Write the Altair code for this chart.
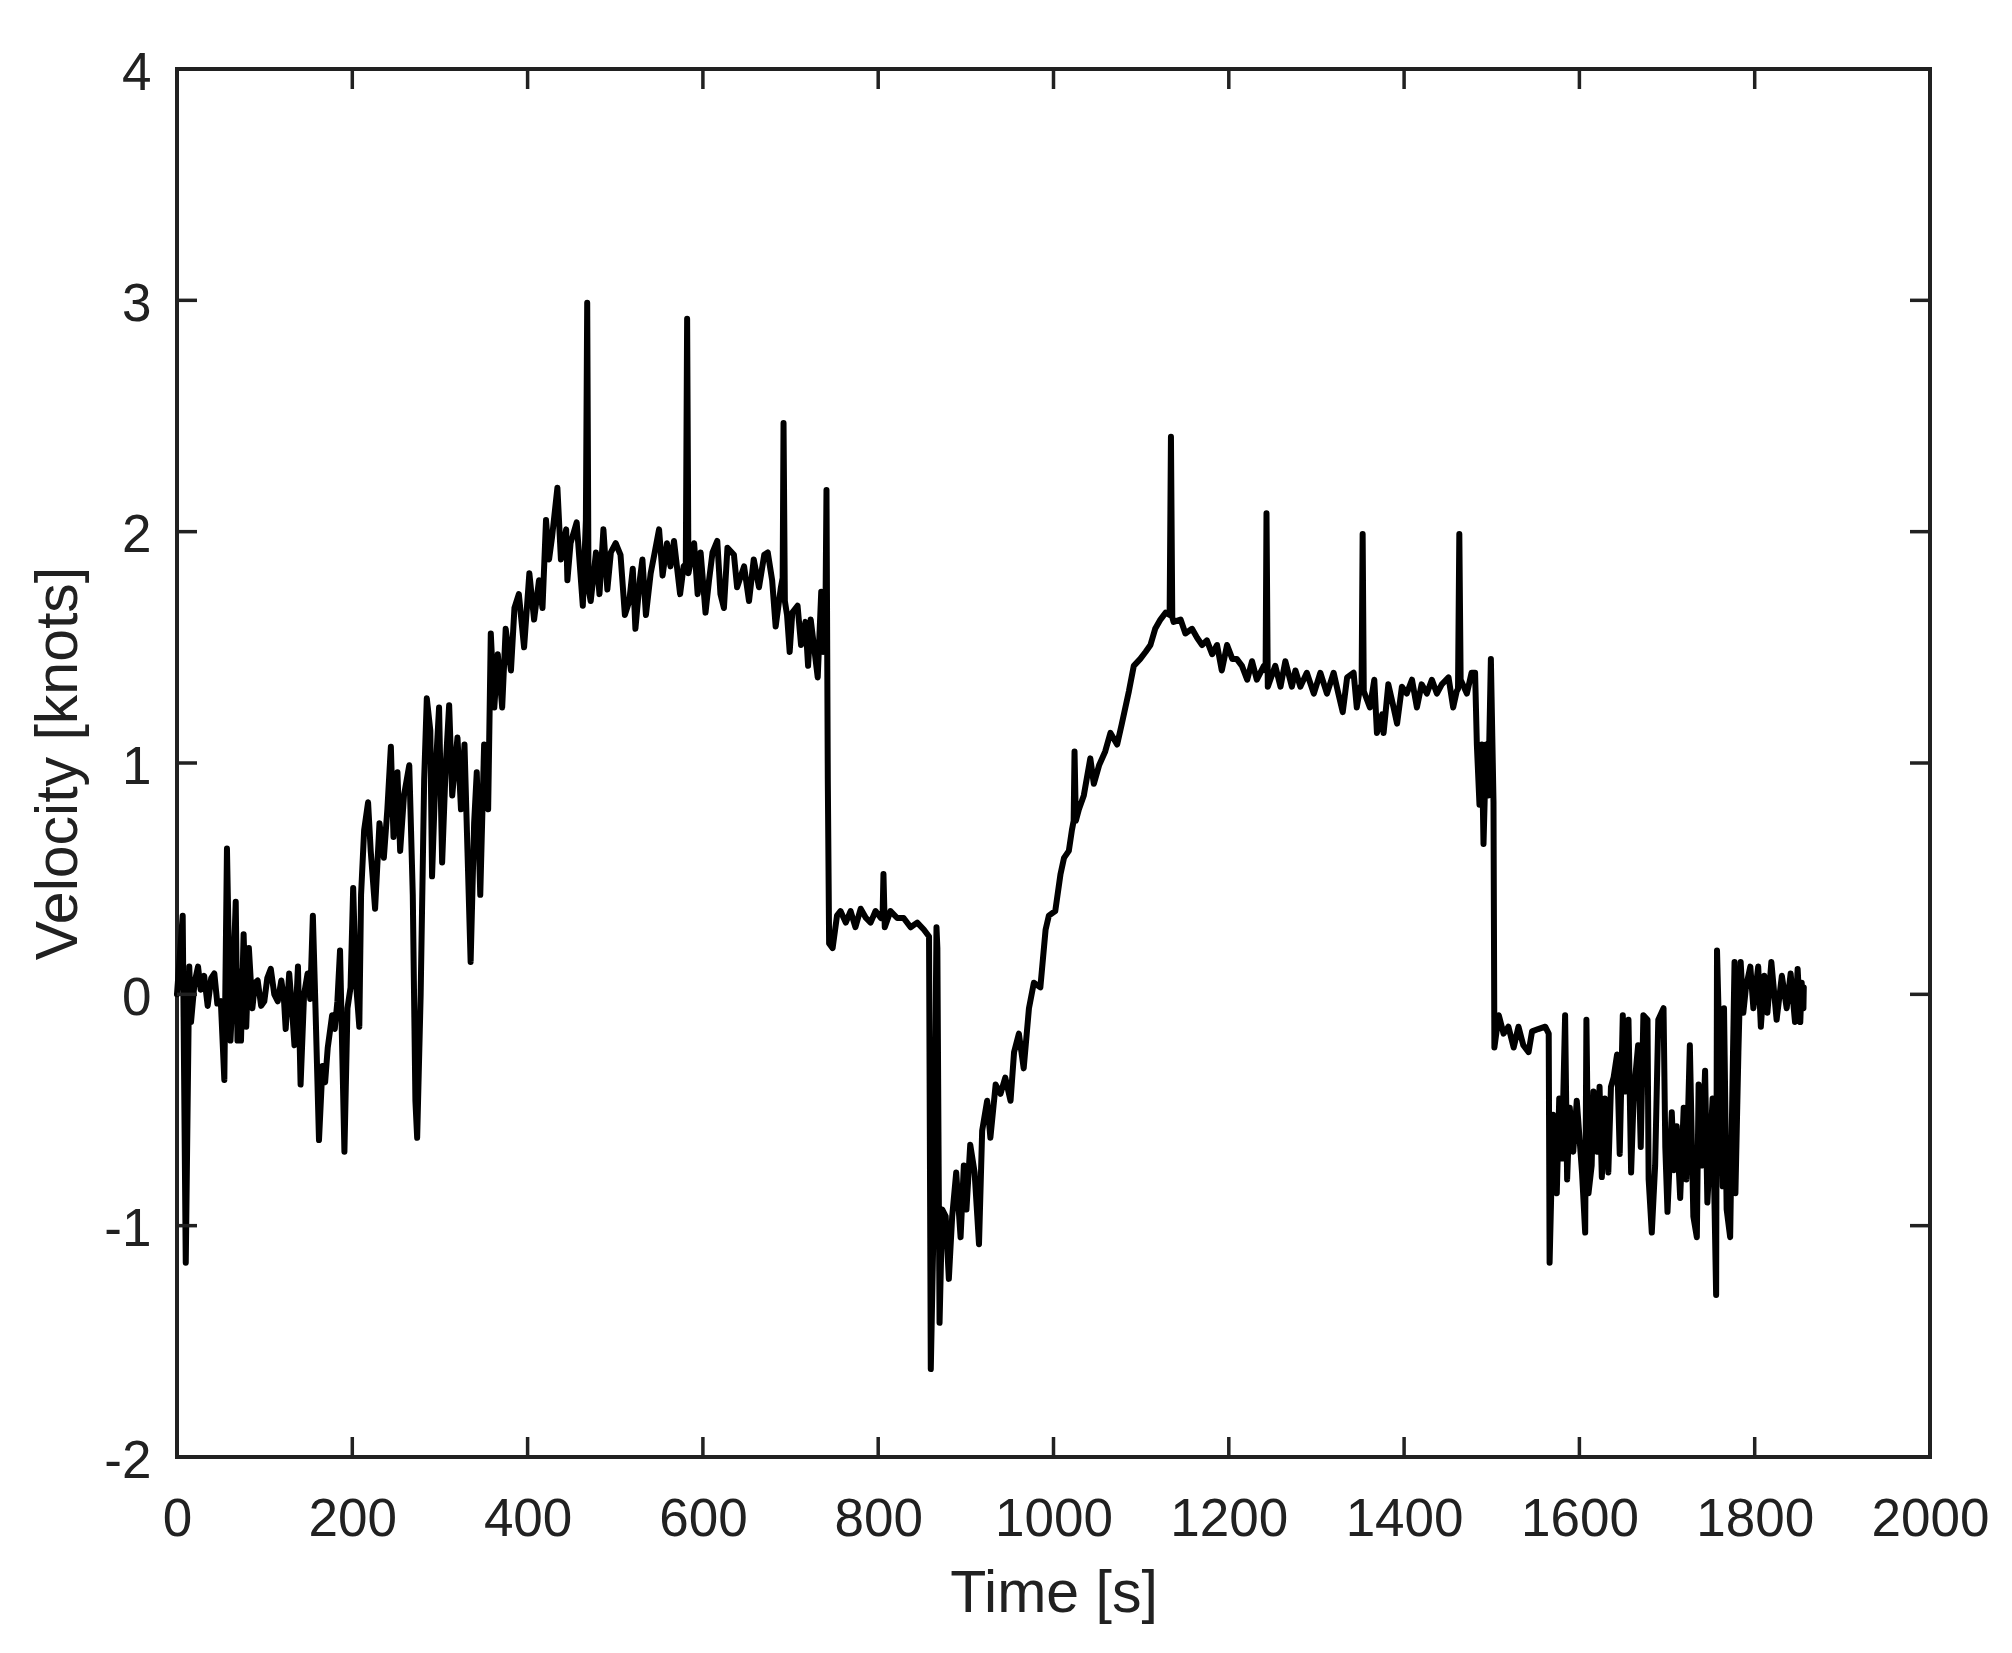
import altair as alt
import pandas as pd

# (time [s], velocity [knots]), segment by segment
seg_start = [(0, 0.0), (6.5, 0.34), (10, -1.16), (14, 0.12), (16, -0.12), (20, 0.05), (24, 0.12), (27, 0.02),
             (31, 0.08), (35, -0.05), (39, 0.07), (42.6, 0.09), (46, -0.04), (50, -0.03), (54, -0.37), (57, 0.63),
             (61, -0.2), (64, 0.05), (67, 0.40), (69, -0.2), (71, 0.1), (73, -0.2), (76, 0.26), (79, -0.14),
             (82, 0.20), (86, -0.06), (89, 0.05), (92, 0.06), (96, -0.05), (99.6, -0.03), (103, 0.07), (107, 0.11),
             (111, 0.0), (115, -0.03), (119, 0.06), (122, -0.02), (124, -0.15), (128, 0.09), (131, -0.05),
             (134, -0.22), (138, 0.12), (141, -0.39), (145, 0.0), (149, 0.09), (152, -0.02), (155, 0.34),
             (158, -0.06), (162, -0.63), (166, -0.31), (169, -0.38), (172, -0.23), (177, -0.09), (180, -0.15),
             (183, -0.03), (186, 0.19), (191, -0.68), (194.5, -0.06), (198, 0.03), (201, 0.46), (204, 0.06),
             (208, -0.14), (210, 0.43), (213.5, 0.71), (218, 0.83), (221, 0.62), (226, 0.37), (231, 0.74),
             (236, 0.59), (240, 0.80), (244, 1.07), (247, 0.68), (251.5, 0.96), (254.6, 0.62), (259, 0.86),
             (265, 0.99), (269, 0.43), (272, -0.46), (274, -0.62), (278, 0.0), (282, 0.93), (285, 1.28),
             (289, 1.14), (291, 0.51), (295, 0.96), (299, 1.24), (302.5, 0.57), (306.6, 0.99), (310.5, 1.25)]

seg_rise = [(314, 0.86), (320, 1.11), (324, 0.80), (328, 1.08), (331.4, 0.62), (335, 0.14), (339, 0.74),
            (342, 0.96), (346, 0.43), (350.4, 1.08), (355, 0.80), (358, 1.56), (362, 1.24), (366, 1.47),
            (371, 1.24), (375, 1.58), (381, 1.40), (385, 1.67), (390, 1.73), (396, 1.50), (402, 1.82),
            (407.4, 1.62), (413, 1.79), (417, 1.67), (421, 2.05), (424.5, 1.88), (428, 1.98), (434, 2.19),
            (438, 1.88), (444, 2.01), (445.4, 1.79), (449, 1.95), (456, 2.04), (463, 1.68), (466.5, 2.05),
            (468, 2.99), (469.5, 1.75), (472, 1.70), (478, 1.91), (482, 1.73), (486.5, 2.01), (491, 1.75),
            (495, 1.91), (500.5, 1.95), (506, 1.90), (511, 1.64), (516, 1.70), (520, 1.84), (523, 1.58),
            (528, 1.79), (531, 1.88), (535, 1.64), (540.4, 1.82), (545, 1.91), (550, 2.01), (554, 1.81),
            (559, 1.95), (563, 1.85), (567, 1.96), (574, 1.73), (578, 1.85), (580.5, 1.86), (582, 2.92),
            (583.5, 1.82), (590, 1.95), (594, 1.73), (597.4, 1.91), (603, 1.65), (607, 1.79), (611, 1.91),
            (616.4, 1.96), (620, 1.73), (624, 1.67), (628, 1.93), (635.4, 1.90)]

seg_first_drop = [(639, 1.76), (647, 1.85), (652.6, 1.70), (658, 1.88), (664, 1.76), (670, 1.90), (674, 1.91),
                  (679, 1.79), (683, 1.59), (689, 1.76), (691, 1.80), (692, 2.47), (693.5, 1.70), (696, 1.64),
                  (699, 1.48), (702, 1.65), (708, 1.68), (712, 1.51), (717, 1.61), (720, 1.42), (723, 1.62),
                  (727.5, 1.48), (731, 1.37), (735, 1.74), (737.3, 1.48), (739.5, 1.50), (741, 2.18),
                  (742.5, 0.93), (744, 0.22), (748, 0.20), (753, 0.34), (757, 0.36), (763, 0.31), (768.5, 0.36),
                  (774, 0.29), (780, 0.37), (786, 0.33), (791.3, 0.31), (797, 0.36), (803, 0.33), (805, 0.34),
                  (806, 0.52), (807.5, 0.29), (814, 0.36), (821.7, 0.33), (829, 0.33), (837, 0.29),
                  (844.5, 0.31), (852, 0.28), (858, 0.25), (860, -1.62), (863.5, -0.93), (866.5, 0.29),
                  (867.5, 0.20), (870, -1.42), (873, -0.93), (877, -0.96), (880.6, -1.23), (884.4, -0.96),
                  (889, -0.77), (894, -1.05), (897.7, -0.74), (900.7, -0.93), (905, -0.65), (910, -0.77),
                  (915, -1.08), (918.6, -0.59), (924.3, -0.46), (928, -0.62), (934, -0.39), (939.5, -0.43),
                  (945, -0.36), (951, -0.46)]

seg_ramp = [(955, -0.25), (960.5, -0.17), (966, -0.32), (972, -0.06), (977.6, 0.05), (985, 0.03), (991, 0.28),
            (994.7, 0.34), (1002, 0.36), (1008, 0.52), (1012, 0.59), (1017.5, 0.62), (1021, 0.71), (1023, 0.75),
            (1024, 1.05), (1025.5, 0.75), (1029, 0.80), (1034.6, 0.86), (1042, 1.02), (1046, 0.91), (1052, 0.99),
            (1059, 1.05), (1065, 1.13), (1072.6, 1.08), (1078, 1.17), (1086, 1.31), (1091.6, 1.42), (1099, 1.45),
            (1105, 1.48), (1110.6, 1.51), (1116, 1.58), (1122, 1.62), (1128, 1.65), (1132.5, 1.64), (1134, 2.41),
            (1135.5, 1.63), (1137, 1.61), (1145, 1.62), (1150.5, 1.56), (1158, 1.58), (1164, 1.54),
            (1169.5, 1.51), (1175, 1.53), (1181, 1.47), (1186.6, 1.51), (1192, 1.40), (1198, 1.51), (1204, 1.45),
            (1209, 1.45), (1215, 1.42), (1221, 1.36), (1226.5, 1.44), (1232, 1.36), (1240, 1.42), (1242, 1.40),
            (1243, 2.08), (1244.5, 1.33), (1253, 1.42), (1259, 1.33), (1264.5, 1.44), (1272, 1.33)]

seg_plateau = [(1276, 1.40), (1281.6, 1.33), (1289, 1.39), (1297, 1.30), (1304.4, 1.39), (1312, 1.30),
               (1319.6, 1.39), (1325, 1.30), (1330, 1.22), (1335, 1.37), (1342.4, 1.39), (1346, 1.24),
               (1350, 1.33), (1351.5, 1.33), (1352.7, 1.99), (1354, 1.31), (1361, 1.24), (1366, 1.36),
               (1369, 1.13), (1375, 1.21), (1376.6, 1.13), (1382, 1.34), (1388, 1.24), (1392, 1.17),
               (1397.5, 1.33), (1403, 1.30), (1409, 1.36), (1414.6, 1.24), (1420, 1.34), (1426, 1.30),
               (1431.7, 1.36), (1437.4, 1.30), (1443, 1.34), (1450.7, 1.37), (1456, 1.24), (1460, 1.31),
               (1461.5, 1.32), (1463, 1.99), (1464.5, 1.36), (1471.6, 1.30), (1477, 1.39), (1481, 1.39),
               (1483, 1.08), (1486, 0.82), (1488.7, 1.08), (1490.6, 0.65), (1493.6, 1.08), (1496, 0.86),
               (1499, 1.45), (1502, 0.83), (1503, -0.23), (1508, -0.09), (1513.5, -0.17), (1519, -0.14),
               (1525, -0.23), (1530.5, -0.14), (1536, -0.22), (1542, -0.25), (1546, -0.16), (1553, -0.15),
               (1561, -0.14), (1565, -0.17), (1566, -1.16), (1570, -0.52), (1574.2, -0.86), (1577, -0.45),
               (1580, -0.71), (1583.7, -0.09), (1586, -0.80), (1589, -0.49), (1593, -0.68)]

seg_end = [(1597, -0.46), (1603, -0.77), (1606.6, -1.03), (1608, -0.11), (1610.4, -0.86), (1614, -0.74),
           (1616, -0.42), (1620, -0.68), (1623, -0.40), (1625.6, -0.79), (1629, -0.45), (1633, -0.77),
           (1636, -0.40), (1639, -0.36), (1643, -0.26), (1646, -0.69), (1649.5, -0.09), (1652, -0.42),
           (1656, -0.11), (1659, -0.77), (1662, -0.43), (1667, -0.22), (1670, -0.66), (1673, -0.09),
           (1677.7, -0.11), (1679, -0.80), (1682.6, -1.03), (1686.4, -0.74), (1690, -0.11), (1696, -0.06),
           (1698, -0.66), (1700.5, -0.94), (1705.4, -0.51), (1708, -0.76), (1711, -0.57), (1715, -0.88),
           (1719, -0.49), (1722, -0.80), (1726, -0.22), (1730, -0.96), (1734, -1.05), (1736, -0.39),
           (1739.6, -0.74), (1743.4, -0.33), (1746, -0.90), (1749, -0.68), (1752, -0.45), (1756, -1.30),
           (1757, 0.19), (1760.5, -0.34), (1763.5, -0.83), (1765, -0.06), (1768, -0.93), (1772, -1.05),
           (1774.6, -0.40), (1777, 0.14), (1778, -0.86), (1781.4, -0.25), (1784, 0.14), (1787, -0.08),
           (1790, 0.03), (1795, 0.12), (1798.5, -0.06), (1804, 0.12), (1807, -0.14), (1811, 0.08),
           (1814.5, -0.08), (1819, 0.14), (1825, -0.11), (1831, 0.08), (1836.5, -0.06), (1841, 0.09),
           (1846, -0.12), (1849, 0.11), (1852, -0.12), (1853.6, 0.05), (1855.6, -0.06), (1856, 0.03)]

x_ticks = [0, 200, 400, 600, 800, 1000, 1200, 1400, 1600, 1800, 2000]
y_ticks = [-2, -1, 0, 1, 2, 3, 4]

points = seg_start + seg_rise + seg_first_drop + seg_ramp + seg_plateau + seg_end
df = pd.DataFrame({"t": [p[0] for p in points], "v": [p[1] for p in points]})
df["i"] = range(len(df))

W, H = 1753, 1388
INK = "#212121"
FONT = "Liberation Sans"
TICK = 20

xscale = alt.Scale(domain=[0, 2000], nice=False, zero=False)
yscale = alt.Scale(domain=[-2, 4], nice=False, zero=False)

x_axis = alt.Axis(values=x_ticks, title="Time [s]", ticks=False, domain=False, grid=False, format="d",
                  labelFont=FONT, labelFontSize=53, labelColor=INK, labelPadding=36,
                  labelFlush=False, labelOverlap=False, labelBound=False,
                  titleFont=FONT, titleFontSize=59, titleColor=INK, titleFontWeight="normal",
                  titleX=W / 2, titleY=154, titleBaseline="alphabetic", titleAlign="center")
y_axis = alt.Axis(values=y_ticks, title="Velocity [knots]", ticks=False, domain=False, grid=False,
                  labelFont=FONT, labelFontSize=53, labelColor=INK, labelPadding=26, labelOffset=4,
                  labelFlush=False, labelOverlap=False, labelBound=False,
                  labelExpr="datum.value < 0 ? '-' + abs(datum.value) : '' + datum.value",
                  titleFont=FONT, titleFontSize=59, titleColor=INK, titleFontWeight="normal",
                  titleX=-101, titleY=H / 2, titleBaseline="alphabetic", titleAlign="center", titleAngle=-90)

line = alt.Chart(df).mark_line(color="black", strokeWidth=6, strokeJoin="round", strokeCap="round").encode(
    x=alt.X("t:Q", scale=xscale, axis=x_axis),
    y=alt.Y("v:Q", scale=yscale, axis=y_axis),
    order="i:Q",
)

xt = pd.DataFrame({"t": x_ticks})
yt = pd.DataFrame({"v": y_ticks})
rule_style = dict(color=INK, strokeWidth=3.5)

bottom_ticks = alt.Chart(xt).mark_rule(**rule_style).encode(
    x=alt.X("t:Q", scale=xscale, axis=x_axis), y=alt.value(H), y2=alt.value(H - TICK))
top_ticks = alt.Chart(xt).mark_rule(**rule_style).encode(
    x=alt.X("t:Q", scale=xscale, axis=x_axis), y=alt.value(0), y2=alt.value(TICK))
left_ticks = alt.Chart(yt).mark_rule(**rule_style).encode(
    y=alt.Y("v:Q", scale=yscale, axis=y_axis), x=alt.value(0), x2=alt.value(TICK))
right_ticks = alt.Chart(yt).mark_rule(**rule_style).encode(
    y=alt.Y("v:Q", scale=yscale, axis=y_axis), x=alt.value(W), x2=alt.value(W - TICK))

chart = alt.layer(line, bottom_ticks, top_ticks, left_ticks, right_ticks).properties(
    width=W, height=H,
    autosize=alt.AutoSizeParams(type="none"),
    padding={"left": 169, "top": 61, "right": 74, "bottom": 188},
    background="white",
).configure_view(stroke=INK, strokeWidth=4)

chart.save("out.html", embed_options={"renderer": "svg", "actions": False})
